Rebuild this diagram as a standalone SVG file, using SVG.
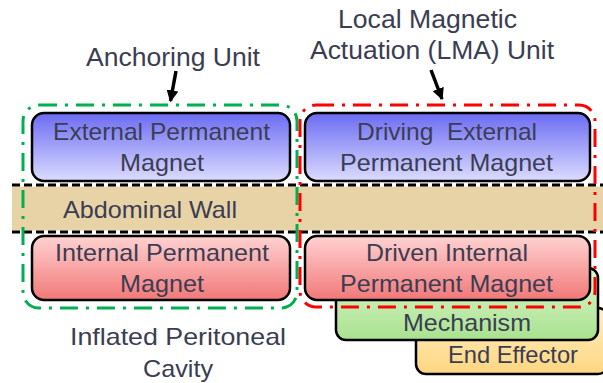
<svg xmlns="http://www.w3.org/2000/svg" width="603" height="383" viewBox="0 0 603 383">
<defs>
<linearGradient id="gBlue" x1="0" y1="0" x2="0" y2="1"><stop offset="0" stop-color="#6b6bf3"/><stop offset="1" stop-color="#dcdcff"/></linearGradient>
<linearGradient id="gRed" x1="0" y1="0" x2="0" y2="1"><stop offset="0" stop-color="#ffd2d2"/><stop offset="1" stop-color="#f27878"/></linearGradient>
<linearGradient id="gGreen" x1="0" y1="0" x2="0" y2="1"><stop offset="0" stop-color="#dcf7cf"/><stop offset="1" stop-color="#a9e28f"/></linearGradient>
<linearGradient id="gOrange" x1="0" y1="0" x2="0" y2="1"><stop offset="0" stop-color="#fff0c4"/><stop offset="1" stop-color="#ffd680"/></linearGradient>
<marker id="ah" viewBox="0 0 10 10" refX="9" refY="5" markerWidth="3.4" markerHeight="3.4" orient="auto" markerUnits="strokeWidth"><path d="M0,0 L10,5 L0,10 Z" fill="#000"/></marker>
</defs>
<style>
.box{stroke:#000;stroke-width:2.5}
.t{font-family:"Liberation Sans",Arial,sans-serif;font-size:24px;fill:#3b3d52;text-anchor:middle}
.lbl{font-family:"Liberation Sans",Arial,sans-serif;font-size:25px;fill:#3b3d52;text-anchor:middle}
.cont{fill:none;stroke-width:3;stroke-dasharray:18 8 3 8}
.wall{stroke-width:3}
</style>
<rect width="603" height="383" fill="#fff"/>
<g id="abdominal-wall">
<rect x="12" y="185" width="591" height="47" fill="#e8d3a7"/>
<line class="wall" x1="12" y1="185" x2="603" y2="185" stroke="#fff"/>
<line class="wall" x1="12" y1="185" x2="603" y2="185" stroke="#000" stroke-dasharray="8 4"/>
<line class="wall" x1="12" y1="232" x2="603" y2="232" stroke="#fff"/>
<line class="wall" x1="12" y1="232" x2="603" y2="232" stroke="#000" stroke-dasharray="8 4"/>
<text class="t" x="150" y="218" font-size="25" textLength="174" lengthAdjust="spacingAndGlyphs">Abdominal Wall</text>
</g>
<g id="external-magnet">
<rect class="box" x="32" y="113" width="258" height="68" rx="12" fill="url(#gBlue)"/>
<text class="t" x="161.5" y="140" textLength="217" lengthAdjust="spacingAndGlyphs">External Permanent</text>
<text class="t" x="162" y="171" textLength="84" lengthAdjust="spacingAndGlyphs">Magnet</text>
</g>
<g id="internal-magnet">
<rect class="box" x="32" y="236" width="258" height="64" rx="12" fill="url(#gRed)"/>
<text class="t" x="162" y="261" textLength="214" lengthAdjust="spacingAndGlyphs">Internal Permanent</text>
<text class="t" x="162" y="292" textLength="84" lengthAdjust="spacingAndGlyphs">Magnet</text>
</g>
<g id="driving-magnet">
<rect class="box" x="305" y="113" width="285" height="68" rx="12" fill="url(#gBlue)"/>
<text class="t" x="447" y="140" textLength="180" lengthAdjust="spacingAndGlyphs" xml:space="preserve">Driving  External</text>
<text class="t" x="446.5" y="171" textLength="213" lengthAdjust="spacingAndGlyphs">Permanent Magnet</text>
</g>
<g id="end-effector">
<rect class="box" x="416" y="308" width="192" height="66" rx="10" fill="url(#gOrange)"/>
<text class="t" x="513" y="363" textLength="130" lengthAdjust="spacingAndGlyphs">End Effector</text>
</g>
<g id="mechanism">
<rect class="box" x="336" y="268" width="262" height="72" rx="10" fill="url(#gGreen)"/>
<text class="t" x="467" y="331" textLength="128" lengthAdjust="spacingAndGlyphs">Mechanism</text>
</g>
<g id="driven-magnet">
<rect class="box" x="305" y="236" width="285" height="64" rx="12" fill="url(#gRed)"/>
<text class="t" x="447" y="261" textLength="162" lengthAdjust="spacingAndGlyphs">Driven Internal</text>
<text class="t" x="446.5" y="292" textLength="213" lengthAdjust="spacingAndGlyphs">Permanent Magnet</text>
</g>
<g id="anchoring-unit">
<rect class="cont" x="23" y="105" width="274" height="203" rx="16" stroke="#00b050"/>
<text class="lbl" x="173" y="66" textLength="174" lengthAdjust="spacingAndGlyphs">Anchoring Unit</text>
</g>
<g id="lma-unit">
<rect class="cont" x="300" y="105" width="295" height="202" rx="16" stroke="#ff0000"/>
<text class="lbl" x="427.5" y="28" textLength="179" lengthAdjust="spacingAndGlyphs">Local Magnetic</text>
<text class="lbl" x="432" y="59" textLength="244" lengthAdjust="spacingAndGlyphs">Actuation (LMA) Unit</text>
</g>
<g id="cavity-label">
<text class="t" x="178" y="345" font-size="25" textLength="216" lengthAdjust="spacingAndGlyphs">Inflated Peritoneal</text>
<text class="t" x="178" y="377" font-size="25" textLength="70" lengthAdjust="spacingAndGlyphs">Cavity</text>
</g>
<g id="connectors">
<line x1="176" y1="71" x2="170.5" y2="101" stroke="#000" stroke-width="3.5" marker-end="url(#ah)"/>
<line x1="431" y1="70" x2="442" y2="99" stroke="#000" stroke-width="3.5" marker-end="url(#ah)"/>
</g>
</svg>
